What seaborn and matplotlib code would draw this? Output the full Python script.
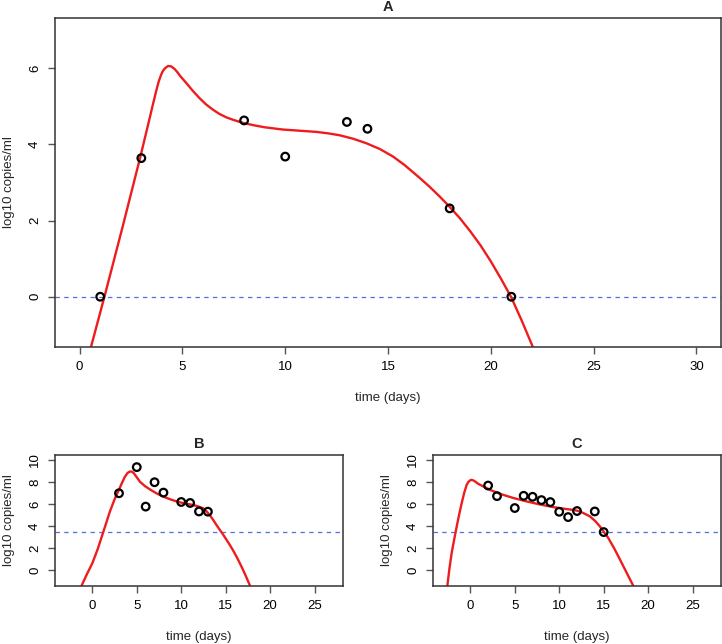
import matplotlib
matplotlib.use("Agg")
import matplotlib.pyplot as plt
import seaborn as sns
import pandas as pd

# ---------------- data ----------------
# Panel A observations
a_obs_t = [1, 3, 8, 10, 13, 14, 18, 21]
a_obs_v = [0.0, 3.64, 4.63, 3.68, 4.59, 4.41, 2.32, 0.0]
# Panel A fitted curve
a_fit_t = [0.40, 0.57, 1.22, 2.11, 2.95, 3.41, 3.55, 3.73, 3.85, 3.97, 4.05, 4.15,
           4.30, 4.45, 4.62, 4.75, 4.90, 5.19, 5.50, 5.84, 6.15, 6.49, 6.80, 7.14,
           7.50, 7.98, 8.50, 9.00, 9.90, 10.70, 11.50, 12.10, 12.65, 13.30, 13.95,
           14.60, 15.25, 15.80, 16.00, 16.50, 17.00, 17.50, 18.00, 18.50, 19.00,
           19.50, 20.00, 20.50, 21.00, 21.50, 22.00, 22.30]
a_fit_v = [-1.62, -1.28, 0.03, 1.88, 3.67, 4.70, 5.02, 5.42, 5.66, 5.84, 5.93, 6.00,
           6.06, 6.05, 5.98, 5.90, 5.79, 5.61, 5.41, 5.21, 5.05, 4.91, 4.80, 4.71,
           4.64, 4.56, 4.50, 4.45, 4.39, 4.36, 4.33, 4.29, 4.24, 4.15, 4.03,
           3.88, 3.68, 3.46, 3.37, 3.14, 2.90, 2.64, 2.36, 2.06, 1.72,
           1.35, 0.93, 0.47, -0.02, -0.62, -1.26, -1.67]

# Panel B observations
b_obs_t = [3, 5, 6, 7, 8, 10, 11, 12, 13]
b_obs_v = [6.97, 9.34, 5.76, 7.97, 7.03, 6.18, 6.09, 5.32, 5.30]
b_fit_t = [-1.50, -1.22, -0.60, 0.00, 0.60, 1.15, 1.97, 2.50, 2.90, 3.30, 3.65,
           3.95, 4.21, 4.45, 4.67, 5.00, 5.34, 5.90, 6.46, 7.20, 7.96, 8.90, 9.83,
           10.60, 11.33, 11.90, 12.46, 12.85, 13.20, 13.60, 13.96, 14.30, 14.70,
           15.30, 15.83, 16.30, 16.78, 17.25, 17.71, 18.00]
b_fit_v = [-1.95, -1.43, -0.35, 0.62, 1.90, 3.25, 5.30, 6.42, 7.12, 7.85, 8.45,
           8.80, 8.94, 8.93, 8.79, 8.42, 8.03, 7.63, 7.33, 6.97, 6.67, 6.38, 6.15,
           6.02, 5.91, 5.78, 5.61, 5.33, 5.00, 4.55, 4.10, 3.70, 3.24,
           2.50, 1.80, 1.10, 0.32, -0.50, -1.36, -1.92]

# Panel C observations
c_obs_t = [2, 3, 5, 6, 7, 8, 9, 10, 11, 12, 14, 15]
c_obs_v = [7.67, 6.71, 5.63, 6.74, 6.65, 6.35, 6.17, 5.29, 4.81, 5.36, 5.32, 3.45]
c_fit_t = [-2.70, -2.58, -2.35, -2.10, -1.80, -1.53, -1.25, -0.97, -0.70, -0.41,
           -0.20, 0.08, 0.30, 0.53, 0.90, 1.46, 2.30, 3.33, 4.80, 6.34, 7.80, 9.33,
           10.70, 11.50, 11.96, 12.40, 12.80, 13.46, 14.05, 14.58, 15.52, 16.20,
           16.84, 17.55, 18.26, 18.50]
c_fit_v = [-2.10, -1.38, 0.15, 1.56, 2.85, 3.97, 5.07, 6.08, 6.98, 7.74,
           8.02, 8.19, 8.15, 8.04, 7.82, 7.59, 7.25, 6.92, 6.55, 6.23, 5.96, 5.71,
           5.55, 5.47, 5.40, 5.29, 5.14, 4.87, 4.45, 3.96, 2.91, 1.95,
           0.95, -0.18, -1.31, -1.70]

panel_titles = ["A", "B", "C"]
thresholds = [0.0, 3.45, 3.45]
xlims = [(0, 30), (-3, 27), (-3, 27)]
ylims = [(-1, 7), (-1, 10), (-1, 10)]
xticks = [[0, 5, 10, 15, 20, 25, 30], [0, 5, 10, 15, 20, 25], [0, 5, 10, 15, 20, 25]]
yticks = [[0, 2, 4, 6], [0, 2, 4, 6, 8, 10], [0, 2, 4, 6, 8, 10]]
x_label = "time (days)"
y_label = "log10 copies/ml"

# ---------------- style ----------------
sns.set_style("ticks")
plt.rcParams["font.family"] = ["Liberation Sans", "DejaVu Sans"]
plt.rcParams["font.size"] = 9

W, H = 722, 644
fig = plt.figure(figsize=(W / 100, H / 100), dpi=100)


def px_axes(l, t, r, b):
    return fig.add_axes([l / W, 1 - b / H, (r - l) / W, (b - t) / H])


axA = px_axes(55, 18, 721, 347)
axB = px_axes(55, 455, 343, 586)
axC = px_axes(433, 455, 721, 586)

panels = [
    (axA, a_obs_t, a_obs_v, a_fit_t, a_fit_v),
    (axB, b_obs_t, b_obs_v, b_fit_t, b_fit_v),
    (axC, c_obs_t, c_obs_v, c_fit_t, c_fit_v),
]


def expand(lim):
    lo, hi = lim
    d = (hi - lo) * 0.04
    return lo - d, hi + d


for i, (ax, ot, ov, ft, fv) in enumerate(panels):
    fit_df = pd.DataFrame({"t": ft, "v": fv})
    obs_df = pd.DataFrame({"t": ot, "v": ov})
    sns.lineplot(data=fit_df, x="t", y="v", ax=ax, color="#ee1c1c", lw=1.7,
                 sort=False, estimator=None, zorder=2)
    ax.get_lines()[-1].set_solid_joinstyle("round")
    ax.axhline(thresholds[i], color="#4f6fe0", lw=0.9, ls=(0, (3.5, 3.5)), zorder=1)
    sns.scatterplot(data=obs_df, x="t", y="v", ax=ax, s=30, marker="o",
                    facecolor="none", edgecolor="black", linewidth=1.6, zorder=3)
    ax.set_xlim(*expand(xlims[i]))
    ax.set_ylim(*expand(ylims[i]))
    ax.set_xticks(xticks[i])
    ax.set_yticks(yticks[i])
    ax.set_yticklabels([str(v) for v in yticks[i]], rotation=90, va="center")
    ax.tick_params(axis="both", direction="out", length=5, width=1, color="#555555",
                   labelsize=9.5, pad=5, labelcolor="black",
                   bottom=True, left=True, top=False, right=False)
    for s in ax.spines.values():
        s.set_visible(True)
        s.set_color("#333333")
        s.set_linewidth(1.1)
    ax.set_xlabel(x_label, fontsize=9.5, labelpad=14)
    ax.set_ylabel(y_label, fontsize=9.5, labelpad=10)
    ax.set_title(panel_titles[i], fontsize=10.5, fontweight="bold", pad=5)
    ax.grid(False)

fig.savefig("out.png", dpi=100)
